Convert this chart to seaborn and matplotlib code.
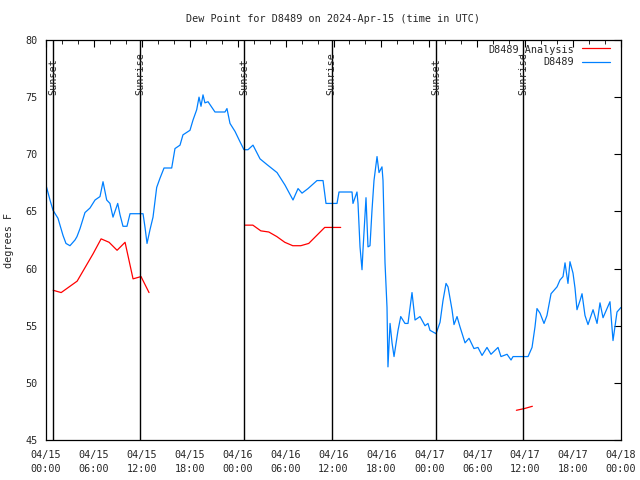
import matplotlib
matplotlib.use("Agg")
import matplotlib.pyplot as plt
import matplotlib.dates as mdates
import seaborn as sns
import pandas as pd
import numpy as np

# hours since 2024-04-15 00:00 UTC
station_hours = [0.0, 0.5, 0.88, 1.5, 2.13, 2.5, 3.0, 3.63, 3.88, 4.26, 4.88, 5.51, 6.14, 6.76,
                 7.14, 7.6, 8.01, 8.39, 8.98, 9.27, 9.64, 10.14, 10.52, 12.15, 12.4, 12.65, 13.02,
                 13.4, 13.86, 14.27, 14.78, 15.74, 16.15, 16.78, 17.15, 18.03, 18.41, 18.87, 19.16,
                 19.41, 19.66, 19.9, 20.29, 21.16, 22.41, 22.66, 23.04, 23.67, 24.29, 24.79, 25.29,
                 25.92, 26.8, 27.67, 28.93, 29.93, 30.93, 31.56, 32.06, 32.81, 33.93, 34.69, 35.06,
                 36.44, 36.69, 38.32, 38.44, 38.94, 39.07, 39.32, 39.57, 39.69, 40.07, 40.32, 40.57,
                 40.82, 41.07, 41.45, 41.7, 42.07, 42.2, 42.45, 42.7, 42.82, 43.08, 43.33, 43.58,
                 44.08, 44.42, 44.95, 45.33, 45.83, 46.21, 46.83, 47.46, 47.83, 48.08, 48.84, 49.34,
                 49.71, 50.09, 50.34, 50.84, 51.09, 51.47, 51.84, 52.47, 52.97, 53.59, 54.09, 54.6,
                 55.22, 55.72, 56.6, 56.97, 57.73, 58.23, 58.48, 60.36, 60.86, 61.23, 61.48, 61.86,
                 62.36, 62.73, 63.24, 63.49, 63.99, 64.36, 64.74, 64.99, 65.36, 65.61, 65.99, 66.24,
                 66.49, 66.87, 67.12, 67.49, 67.87, 68.5, 69.0, 69.37, 69.75, 70.62, 71.0, 71.5, 72.0]
station_dewpt = [67.3, 66.0, 65.1, 64.4, 62.9, 62.2, 62.0, 62.5, 62.8, 63.5, 64.9, 65.3, 66.0, 66.3,
                 67.6, 66.0, 65.7, 64.5, 65.7, 64.7, 63.7, 63.7, 64.8, 64.8, 63.6, 62.2, 63.4,
                 64.5, 67.1, 67.9, 68.8, 68.8, 70.5, 70.8, 71.7, 72.1, 73.0, 73.9, 75.0,
                 74.2, 75.2, 74.5, 74.6, 73.7, 73.7, 74.0, 72.7, 72.0, 71.1, 70.4, 70.4,
                 70.8, 69.6, 69.1, 68.4, 67.3, 66.0, 67.0, 66.6, 67.0, 67.7, 67.7, 65.7,
                 65.7, 66.7, 66.7, 65.7, 66.7, 65.7, 61.9, 59.9, 61.6, 66.2, 61.9, 62.0,
                 65.1, 67.7, 69.8, 68.4, 68.9, 67.7, 60.5, 56.6, 51.4, 55.2, 53.5, 52.3,
                 54.6, 55.8, 55.2, 55.2, 57.9, 55.5, 55.8, 55.0, 55.2, 54.6, 54.3, 55.3,
                 57.2, 58.7, 58.4, 56.4, 55.1, 55.8, 54.9, 53.5, 53.9, 53.0, 53.1, 52.4,
                 53.1, 52.5, 53.1, 52.3, 52.5, 52.0, 52.3, 52.3, 53.1, 54.9, 56.5, 56.1,
                 55.2, 55.9, 57.8, 58.0, 58.4, 59.0, 59.3, 60.5, 58.7, 60.6, 59.6, 58.3,
                 56.4, 57.2, 57.8, 55.9, 55.1, 56.4, 55.2, 57.0, 55.7, 57.1, 53.7, 56.2, 56.6]

analysis_hours = [0.9, 1.9, 2.9, 3.9, 4.9, 5.9, 6.9, 7.9, 8.9, 9.9, 10.9, 11.9, 12.9,
                  24.9, 25.9, 26.9, 27.9, 28.9, 29.9, 30.9, 31.9, 32.9, 33.9, 34.9, 35.9, 36.9,
                  58.9, 59.9, 60.9]
analysis_dewpt = [58.1, 57.9, 58.4, 58.9, 60.1, 61.3, 62.6, 62.3, 61.6, 62.3, 59.1, 59.3, 57.9,
                  63.8, 63.8, 63.3, 63.2, 62.8, 62.3, 62.0, 62.0, 62.2, 62.9, 63.6, 63.6, 63.6,
                  47.6, 47.75, 47.95]
analysis_run = [1] * 13 + [2] * 13 + [3] * 3

sun_hours = [0.91, 11.77, 24.83, 35.75, 48.87, 59.77]
sun_labels = ["Sunset", "Sunrise", "Sunset", "Sunrise", "Sunset", "Sunrise"]

start = pd.Timestamp("2024-04-15 00:00")

def to_time(hours):
    return start + pd.to_timedelta(np.array(hours), unit="h")

station = pd.DataFrame({"time": to_time(station_hours), "dewpt": station_dewpt,
                        "series": "D8489", "run": 0})
analysis = pd.DataFrame({"time": to_time(analysis_hours), "dewpt": analysis_dewpt,
                         "series": "D8489_Analysis", "run": analysis_run})
df = pd.concat([analysis, station], ignore_index=True)

sns.set_style("white")
plt.rcParams["font.family"] = ["DejaVu Sans Mono"]
plt.rcParams["font.size"] = 7.3

fig = plt.figure(figsize=(6.4, 4.8), dpi=100)
ax = fig.add_axes([46 / 640, 40 / 480, 575 / 640, 400 / 480])

sns.lineplot(data=df, x="time", y="dewpt", hue="series", units="run", estimator=None,
             palette={"D8489_Analysis": "#ff0000", "D8489": "#0080ff"},
             hue_order=["D8489_Analysis", "D8489"], linewidth=0.9, ax=ax)

# sunrise / sunset markers, label text starts just below the 75 line
for h, lab in zip(sun_hours, sun_labels):
    t = to_time([h])[0]
    ax.axvline(t, color="black", linewidth=1.0)
    ax.text(t, 75.2, lab, rotation=90, ha="center", va="bottom", fontsize=7.3)

ax.set_xlim(start, start + pd.Timedelta(hours=72))
ax.set_ylim(45, 80)
ax.set_yticks(np.arange(45, 81, 5))
ax.xaxis.set_major_locator(mdates.HourLocator(byhour=[0, 6, 12, 18]))
ax.xaxis.set_minor_locator(mdates.HourLocator(interval=2))
ax.xaxis.set_major_formatter(mdates.DateFormatter("%m/%d\n%H:%M"))
ax.tick_params(which="both", direction="in", top=True, right=True, color="black")
ax.tick_params(which="major", length=5, labelsize=7.3)
ax.tick_params(axis="x", which="major", pad=7)
ax.tick_params(axis="y", which="major", pad=6)
ax.tick_params(which="minor", length=3)
for lbl in ax.get_xticklabels():
    lbl.set_linespacing(1.5)
for s in ax.spines.values():
    s.set_color("black")
    s.set_linewidth(0.9)

ax.set_xlabel("")
ax.set_ylabel("degrees F", fontsize=7.3, labelpad=8)
ax.set_title("Dew Point for D8489 on 2024-Apr-15 (time in UTC)", fontsize=7.3, pad=13)

leg = ax.legend(loc="upper right", bbox_to_anchor=(564 / 575, 0.99), frameon=False,
                markerfirst=False, fontsize=7.3, handlelength=2.8, labelspacing=0.25,
                borderaxespad=0, borderpad=0, handletextpad=0.75)

fig.savefig("out.png", dpi=100)
